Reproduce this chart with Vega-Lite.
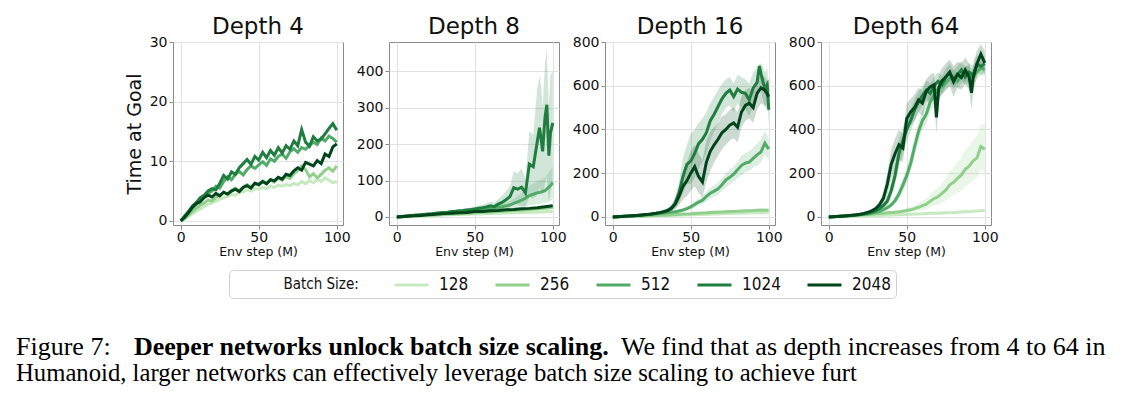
{
"$schema":"https://vega.github.io/schema/vega-lite/v6.json",
"padding":{"left":15,"top":15,"right":5,"bottom":5},
"bounds":"flush",
"spacing":46,
"config":{
"font":"DejaVu Sans",
"view":{"stroke":"#8a8a8a","strokeWidth":1},
"line":{"strokeWidth":3},
"axis":{"domain":false,"grid":true,"gridColor":"#e2e2e2","gridWidth":1,"tickColor":"#8a8a8a","tickSize":4,"labelFontSize":14,"labelColor":"#111","labelFlush":false,"titleFontWeight":"normal","titleColor":"#111","labelPadding":2},
"axisX":{"titleFontSize":12.5,"titlePadding":1,"labelPadding":1},
"axisY":{"titleFontSize":19,"titlePadding":5},
"title":{"fontSize":23,"fontWeight":"normal","font":"DejaVu Sans","frame":"group","baseline":"alphabetic","color":"#111"},
"legend":{"titleFontSize":15,"titleFontWeight":"normal","titleFont":"DejaVu Sans Condensed, DejaVu Sans","titleColor":"#111","labelFontSize":17,"labelFont":"DejaVu Sans Condensed, DejaVu Sans","labelColor":"#111"}
},
"datasets":{
"d4":[
{"b":128,"x":0,"y":0},{"b":128,"x":2.5,"y":0.3},{"b":128,"x":5,"y":0.8},{"b":128,"x":7.5,"y":1.2},{"b":128,"x":10,"y":1.6},{"b":128,"x":12.5,"y":2.0},{"b":128,"x":15,"y":2.4},{"b":128,"x":17.5,"y":2.8},{"b":128,"x":20,"y":3.0},{"b":128,"x":22.5,"y":3.3},{"b":128,"x":25,"y":3.6},{"b":128,"x":27.5,"y":3.9},{"b":128,"x":30,"y":4.1},{"b":128,"x":32.5,"y":4.4},{"b":128,"x":35,"y":4.3},{"b":128,"x":37.5,"y":4.7},{"b":128,"x":40,"y":4.9},{"b":128,"x":42.5,"y":5.2},{"b":128,"x":45,"y":5.0},{"b":128,"x":47.5,"y":5.4},{"b":128,"x":50,"y":5.3},{"b":128,"x":52.5,"y":5.6},{"b":128,"x":55,"y":5.4},{"b":128,"x":57.5,"y":5.8},{"b":128,"x":60,"y":5.6},{"b":128,"x":62.5,"y":6.0},{"b":128,"x":65,"y":5.8},{"b":128,"x":67.5,"y":6.1},{"b":128,"x":70,"y":5.9},{"b":128,"x":72.5,"y":6.3},{"b":128,"x":75,"y":6.0},{"b":128,"x":77.5,"y":6.6},{"b":128,"x":80,"y":6.2},{"b":128,"x":82.5,"y":6.8},{"b":128,"x":85,"y":6.4},{"b":128,"x":87.5,"y":6.9},{"b":128,"x":90,"y":6.6},{"b":128,"x":92.5,"y":7.2},{"b":128,"x":95,"y":6.8},{"b":128,"x":97.5,"y":6.4},{"b":128,"x":100,"y":6.6},
{"b":256,"x":0,"y":0},{"b":256,"x":2.5,"y":0.4},{"b":256,"x":5,"y":1.0},{"b":256,"x":7.5,"y":1.6},{"b":256,"x":10,"y":2.1},{"b":256,"x":12.5,"y":2.6},{"b":256,"x":15,"y":3.0},{"b":256,"x":17.5,"y":3.5},{"b":256,"x":20,"y":3.3},{"b":256,"x":22.5,"y":3.9},{"b":256,"x":25,"y":4.3},{"b":256,"x":27.5,"y":4.8},{"b":256,"x":30,"y":4.4},{"b":256,"x":32.5,"y":5.1},{"b":256,"x":35,"y":5.5},{"b":256,"x":37.5,"y":5.0},{"b":256,"x":40,"y":5.7},{"b":256,"x":42.5,"y":6.1},{"b":256,"x":45,"y":5.6},{"b":256,"x":47.5,"y":6.3},{"b":256,"x":50,"y":6.0},{"b":256,"x":52.5,"y":6.7},{"b":256,"x":55,"y":6.3},{"b":256,"x":57.5,"y":6.9},{"b":256,"x":60,"y":6.5},{"b":256,"x":62.5,"y":7.2},{"b":256,"x":65,"y":6.8},{"b":256,"x":67.5,"y":7.5},{"b":256,"x":70,"y":7.1},{"b":256,"x":72.5,"y":7.9},{"b":256,"x":75,"y":8.4},{"b":256,"x":77.5,"y":9.2},{"b":256,"x":80,"y":8.6},{"b":256,"x":82.5,"y":7.4},{"b":256,"x":85,"y":7.9},{"b":256,"x":87.5,"y":7.2},{"b":256,"x":90,"y":7.8},{"b":256,"x":92.5,"y":8.5},{"b":256,"x":95,"y":8.9},{"b":256,"x":97.5,"y":8.3},{"b":256,"x":100,"y":9.2},
{"b":512,"x":0,"y":0},{"b":512,"x":2.5,"y":0.7},{"b":512,"x":5,"y":1.4},{"b":512,"x":7.5,"y":2.2},{"b":512,"x":10,"y":2.9},{"b":512,"x":12.5,"y":3.6},{"b":512,"x":15,"y":4.0},{"b":512,"x":17.5,"y":4.6},{"b":512,"x":20,"y":5.0},{"b":512,"x":22.5,"y":5.8},{"b":512,"x":25,"y":5.5},{"b":512,"x":27.5,"y":6.6},{"b":512,"x":30,"y":7.4},{"b":512,"x":32.5,"y":6.9},{"b":512,"x":35,"y":7.8},{"b":512,"x":37.5,"y":8.3},{"b":512,"x":40,"y":7.7},{"b":512,"x":42.5,"y":8.6},{"b":512,"x":45,"y":9.2},{"b":512,"x":47.5,"y":8.8},{"b":512,"x":50,"y":9.4},{"b":512,"x":52.5,"y":9.9},{"b":512,"x":55,"y":9.3},{"b":512,"x":57.5,"y":10.4},{"b":512,"x":60,"y":10.0},{"b":512,"x":62.5,"y":10.8},{"b":512,"x":65,"y":11.2},{"b":512,"x":67.5,"y":10.5},{"b":512,"x":70,"y":11.6},{"b":512,"x":72.5,"y":12.1},{"b":512,"x":75,"y":11.5},{"b":512,"x":77.5,"y":12.3},{"b":512,"x":80,"y":12.0},{"b":512,"x":82.5,"y":12.6},{"b":512,"x":85,"y":13.2},{"b":512,"x":87.5,"y":12.8},{"b":512,"x":90,"y":13.9},{"b":512,"x":92.5,"y":13.4},{"b":512,"x":95,"y":14.2},{"b":512,"x":97.5,"y":13.8},{"b":512,"x":100,"y":13.2},
{"b":1024,"x":0,"y":0},{"b":1024,"x":2.5,"y":0.8},{"b":1024,"x":5,"y":1.6},{"b":1024,"x":7.5,"y":2.5},{"b":1024,"x":10,"y":3.1},{"b":1024,"x":12.5,"y":3.9},{"b":1024,"x":15,"y":4.3},{"b":1024,"x":17.5,"y":5.0},{"b":1024,"x":20,"y":5.4},{"b":1024,"x":22.5,"y":5.2},{"b":1024,"x":25,"y":6.3},{"b":1024,"x":27.5,"y":7.6},{"b":1024,"x":30,"y":7.0},{"b":1024,"x":32.5,"y":8.2},{"b":1024,"x":35,"y":7.8},{"b":1024,"x":37.5,"y":8.9},{"b":1024,"x":40,"y":9.6},{"b":1024,"x":42.5,"y":10.3},{"b":1024,"x":45,"y":9.5},{"b":1024,"x":47.5,"y":10.8},{"b":1024,"x":50,"y":10.2},{"b":1024,"x":52.5,"y":11.5},{"b":1024,"x":55,"y":10.6},{"b":1024,"x":57.5,"y":11.8},{"b":1024,"x":60,"y":11.0},{"b":1024,"x":62.5,"y":12.3},{"b":1024,"x":65,"y":11.4},{"b":1024,"x":67.5,"y":12.6},{"b":1024,"x":70,"y":12.0},{"b":1024,"x":72.5,"y":13.4},{"b":1024,"x":75,"y":12.6},{"b":1024,"x":77.5,"y":15.3},{"b":1024,"x":80,"y":13.2},{"b":1024,"x":82.5,"y":12.5},{"b":1024,"x":85,"y":14.1},{"b":1024,"x":87.5,"y":13.4},{"b":1024,"x":90,"y":13.7},{"b":1024,"x":92.5,"y":14.6},{"b":1024,"x":95,"y":15.5},{"b":1024,"x":97.5,"y":16.3},{"b":1024,"x":100,"y":15.2},
{"b":2048,"x":0,"y":0},{"b":2048,"x":2.5,"y":0.6},{"b":2048,"x":5,"y":1.4},{"b":2048,"x":7.5,"y":2.3},{"b":2048,"x":10,"y":2.9},{"b":2048,"x":12.5,"y":3.2},{"b":2048,"x":15,"y":3.9},{"b":2048,"x":17.5,"y":4.3},{"b":2048,"x":20,"y":4.0},{"b":2048,"x":22.5,"y":4.6},{"b":2048,"x":25,"y":4.2},{"b":2048,"x":27.5,"y":4.8},{"b":2048,"x":30,"y":4.5},{"b":2048,"x":32.5,"y":5.0},{"b":2048,"x":35,"y":5.3},{"b":2048,"x":37.5,"y":4.9},{"b":2048,"x":40,"y":5.6},{"b":2048,"x":42.5,"y":5.9},{"b":2048,"x":45,"y":5.5},{"b":2048,"x":47.5,"y":6.3},{"b":2048,"x":50,"y":6.1},{"b":2048,"x":52.5,"y":6.6},{"b":2048,"x":55,"y":6.2},{"b":2048,"x":57.5,"y":6.9},{"b":2048,"x":60,"y":6.7},{"b":2048,"x":62.5,"y":7.3},{"b":2048,"x":65,"y":7.0},{"b":2048,"x":67.5,"y":7.8},{"b":2048,"x":70,"y":7.6},{"b":2048,"x":72.5,"y":8.4},{"b":2048,"x":75,"y":8.9},{"b":2048,"x":77.5,"y":8.5},{"b":2048,"x":80,"y":9.8},{"b":2048,"x":82.5,"y":9.5},{"b":2048,"x":85,"y":9.2},{"b":2048,"x":87.5,"y":10.1},{"b":2048,"x":90,"y":9.6},{"b":2048,"x":92.5,"y":11.2},{"b":2048,"x":95,"y":10.8},{"b":2048,"x":97.5,"y":12.4},{"b":2048,"x":100,"y":12.9}
],
"d8":[
{"b":128,"x":0,"y":0},{"b":128,"x":5,"y":0.9},{"b":128,"x":10,"y":1.8},{"b":128,"x":15,"y":2.7},{"b":128,"x":20,"y":3.6},{"b":128,"x":25,"y":4.5},{"b":128,"x":30,"y":5.3},{"b":128,"x":35,"y":6.1},{"b":128,"x":40,"y":6.9},{"b":128,"x":45,"y":7.6},{"b":128,"x":50,"y":8.4},{"b":128,"x":55,"y":9.0},{"b":128,"x":60,"y":9.7},{"b":128,"x":65,"y":10.4},{"b":128,"x":70,"y":11.0},{"b":128,"x":75,"y":11.7},{"b":128,"x":80,"y":12.3},{"b":128,"x":85,"y":13.0},{"b":128,"x":90,"y":13.6},{"b":128,"x":95,"y":14.3},{"b":128,"x":100,"y":15.0},
{"b":256,"x":0,"y":0},{"b":256,"x":5,"y":1.1},{"b":256,"x":10,"y":2.3},{"b":256,"x":15,"y":3.4},{"b":256,"x":20,"y":4.6},{"b":256,"x":25,"y":5.7},{"b":256,"x":30,"y":6.9},{"b":256,"x":35,"y":8.0},{"b":256,"x":40,"y":9.1},{"b":256,"x":45,"y":10.3},{"b":256,"x":50,"y":11.6},{"b":256,"x":55,"y":12.7},{"b":256,"x":60,"y":13.8},{"b":256,"x":65,"y":15.2},{"b":256,"x":70,"y":16.4},{"b":256,"x":75,"y":17.9},{"b":256,"x":80,"y":19.1},{"b":256,"x":85,"y":20.6},{"b":256,"x":90,"y":22.3},{"b":256,"x":95,"y":24.1},{"b":256,"x":100,"y":26.0},
{"b":512,"x":0,"y":0,"l":0,"h":0},{"b":512,"x":2.5,"y":0.9,"l":0.5,"h":1.3},{"b":512,"x":5,"y":1.8,"l":1.2,"h":2.4},{"b":512,"x":7.5,"y":2.7,"l":1.9,"h":3.5},{"b":512,"x":10,"y":3.7,"l":2.8,"h":4.6},{"b":512,"x":12.5,"y":4.5,"l":3.5,"h":5.5},{"b":512,"x":15,"y":5.6,"l":4.4,"h":6.8},{"b":512,"x":17.5,"y":6.4,"l":5.1,"h":7.7},{"b":512,"x":20,"y":7.5,"l":6.0,"h":9.0},{"b":512,"x":22.5,"y":8.3,"l":6.7,"h":9.9},{"b":512,"x":25,"y":9.4,"l":7.6,"h":11.2},{"b":512,"x":27.5,"y":10.1,"l":8.2,"h":12.0},{"b":512,"x":30,"y":11.2,"l":9.1,"h":13.3},{"b":512,"x":32.5,"y":12.3,"l":10.0,"h":14.6},{"b":512,"x":35,"y":13.0,"l":10.5,"h":15.5},{"b":512,"x":37.5,"y":14.2,"l":11.5,"h":16.9},{"b":512,"x":40,"y":15.1,"l":12.2,"h":18.0},{"b":512,"x":42.5,"y":15.8,"l":12.6,"h":19.0},{"b":512,"x":45,"y":17.0,"l":13.6,"h":20.4},{"b":512,"x":47.5,"y":17.6,"l":14.0,"h":21.2},{"b":512,"x":50,"y":18.9,"l":15.0,"h":22.8},{"b":512,"x":52.5,"y":19.8,"l":15.6,"h":24.0},{"b":512,"x":55,"y":21.0,"l":16.5,"h":25.5},{"b":512,"x":57.5,"y":22.4,"l":17.4,"h":27.4},{"b":512,"x":60,"y":23.5,"l":18.0,"h":29.0},{"b":512,"x":62.5,"y":24.6,"l":18.5,"h":30.7},{"b":512,"x":65,"y":26.8,"l":19.8,"h":33.8},{"b":512,"x":67.5,"y":28.1,"l":20.2,"h":36.0},{"b":512,"x":70,"y":30.5,"l":21.5,"h":39.5},{"b":512,"x":72.5,"y":32.8,"l":22.0,"h":44.0},{"b":512,"x":75,"y":37.2,"l":24.0,"h":51.0},{"b":512,"x":77.5,"y":41.5,"l":25.5,"h":58.0},{"b":512,"x":80,"y":46.3,"l":27.0,"h":66.0},{"b":512,"x":82.5,"y":51.8,"l":29.0,"h":75.0},{"b":512,"x":85,"y":58.9,"l":32.0,"h":86.0},{"b":512,"x":87.5,"y":62.4,"l":33.0,"h":92.0},{"b":512,"x":90,"y":66.2,"l":35.0,"h":98.0},{"b":512,"x":92.5,"y":68.7,"l":36.0,"h":102.0},{"b":512,"x":95,"y":72.4,"l":38.0,"h":108.0},{"b":512,"x":97.5,"y":81.6,"l":42.0,"h":122.0},{"b":512,"x":100,"y":94.0,"l":50.0,"h":138.0},
{"b":1024,"x":0,"y":0,"l":0,"h":0},{"b":1024,"x":2.5,"y":1.0,"l":0.6,"h":1.4},{"b":1024,"x":5,"y":2.0,"l":1.3,"h":2.7},{"b":1024,"x":7.5,"y":3.1,"l":2.2,"h":4.0},{"b":1024,"x":10,"y":4.0,"l":2.9,"h":5.1},{"b":1024,"x":12.5,"y":5.2,"l":3.9,"h":6.5},{"b":1024,"x":15,"y":6.0,"l":4.5,"h":7.5},{"b":1024,"x":17.5,"y":7.1,"l":5.4,"h":8.8},{"b":1024,"x":20,"y":8.3,"l":6.3,"h":10.3},{"b":1024,"x":22.5,"y":9.0,"l":6.8,"h":11.2},{"b":1024,"x":25,"y":10.2,"l":7.8,"h":12.6},{"b":1024,"x":27.5,"y":11.5,"l":8.9,"h":14.1},{"b":1024,"x":30,"y":12.6,"l":9.7,"h":15.5},{"b":1024,"x":32.5,"y":13.3,"l":10.1,"h":16.5},{"b":1024,"x":35,"y":14.8,"l":11.3,"h":18.3},{"b":1024,"x":37.5,"y":15.6,"l":11.8,"h":19.4},{"b":1024,"x":40,"y":17.2,"l":13.0,"h":21.4},{"b":1024,"x":42.5,"y":18.0,"l":13.5,"h":22.5},{"b":1024,"x":45,"y":19.5,"l":14.5,"h":24.5},{"b":1024,"x":47.5,"y":20.3,"l":15.0,"h":25.6},{"b":1024,"x":50,"y":22.0,"l":16.0,"h":28.0},{"b":1024,"x":52.5,"y":23.8,"l":17.0,"h":30.6},{"b":1024,"x":55,"y":25.1,"l":17.5,"h":32.7},{"b":1024,"x":57.5,"y":27.6,"l":18.5,"h":36.7},{"b":1024,"x":60,"y":30.5,"l":19.5,"h":41.5},{"b":1024,"x":62.5,"y":28.4,"l":18.0,"h":38.8},{"b":1024,"x":65,"y":35.2,"l":21.0,"h":49.4},{"b":1024,"x":67.5,"y":40.1,"l":22.0,"h":58.2},{"b":1024,"x":70,"y":47.5,"l":24.0,"h":71.0},{"b":1024,"x":72.5,"y":55.3,"l":27.0,"h":83.6},{"b":1024,"x":75,"y":80.2,"l":35.0,"h":125.4},{"b":1024,"x":77.5,"y":76.5,"l":34.0,"h":119.0},{"b":1024,"x":80,"y":82.0,"l":30.0,"h":134.0},{"b":1024,"x":82.5,"y":66.0,"l":28.0,"h":104.0},{"b":1024,"x":85,"y":145.0,"l":55.0,"h":235.0},{"b":1024,"x":87.5,"y":138.0,"l":50.0,"h":226.0},{"b":1024,"x":90,"y":205.0,"l":60.0,"h":350.0},{"b":1024,"x":91.5,"y":245.0,"l":80.0,"h":385.0},{"b":1024,"x":92.5,"y":215.0,"l":70.0,"h":360.0},{"b":1024,"x":93.5,"y":180.0,"l":60.0,"h":300.0},{"b":1024,"x":95,"y":272.0,"l":90.0,"h":420.0},{"b":1024,"x":96.2,"y":308.0,"l":110.0,"h":460.0},{"b":1024,"x":97.5,"y":168.0,"l":40.0,"h":300.0},{"b":1024,"x":98.5,"y":230.0,"l":70.0,"h":390.0},{"b":1024,"x":100,"y":258.0,"l":90.0,"h":400.0},
{"b":2048,"x":0,"y":0},{"b":2048,"x":5,"y":1.6},{"b":2048,"x":10,"y":3.2},{"b":2048,"x":15,"y":4.3},{"b":2048,"x":20,"y":6.1},{"b":2048,"x":25,"y":7.4},{"b":2048,"x":30,"y":9.2},{"b":2048,"x":35,"y":10.1},{"b":2048,"x":40,"y":11.8},{"b":2048,"x":45,"y":12.6},{"b":2048,"x":50,"y":14.9},{"b":2048,"x":55,"y":15.3},{"b":2048,"x":60,"y":17.4},{"b":2048,"x":65,"y":18.1},{"b":2048,"x":70,"y":19.6},{"b":2048,"x":75,"y":20.8},{"b":2048,"x":80,"y":22.5},{"b":2048,"x":85,"y":23.6},{"b":2048,"x":90,"y":25.4},{"b":2048,"x":95,"y":27.8},{"b":2048,"x":100,"y":30.5}
],
"d16":[
{"b":128,"x":0,"y":0},{"b":128,"x":5,"y":0.8},{"b":128,"x":10,"y":1.6},{"b":128,"x":15,"y":2.5},{"b":128,"x":20,"y":3.4},{"b":128,"x":25,"y":4.3},{"b":128,"x":30,"y":5.3},{"b":128,"x":35,"y":6.2},{"b":128,"x":40,"y":7.2},{"b":128,"x":45,"y":8.3},{"b":128,"x":50,"y":9.5},{"b":128,"x":55,"y":10.6},{"b":128,"x":60,"y":11.8},{"b":128,"x":65,"y":12.9},{"b":128,"x":70,"y":14.1},{"b":128,"x":75,"y":15.3},{"b":128,"x":80,"y":16.4},{"b":128,"x":85,"y":17.5},{"b":128,"x":90,"y":18.6},{"b":128,"x":95,"y":19.6},{"b":128,"x":100,"y":20.5},
{"b":256,"x":0,"y":0},{"b":256,"x":5,"y":1.1},{"b":256,"x":10,"y":2.0},{"b":256,"x":15,"y":3.3},{"b":256,"x":20,"y":4.4},{"b":256,"x":25,"y":6.1},{"b":256,"x":30,"y":7.4},{"b":256,"x":35,"y":9.2},{"b":256,"x":40,"y":10.6},{"b":256,"x":45,"y":12.8},{"b":256,"x":50,"y":14.3},{"b":256,"x":55,"y":16.9},{"b":256,"x":60,"y":18.7},{"b":256,"x":65,"y":21.4},{"b":256,"x":70,"y":22.8},{"b":256,"x":75,"y":24.9},{"b":256,"x":80,"y":25.7},{"b":256,"x":85,"y":28.1},{"b":256,"x":90,"y":28.9},{"b":256,"x":95,"y":31.2},{"b":256,"x":100,"y":30.4},
{"b":512,"x":0,"y":0},{"b":512,"x":2.5,"y":0.8},{"b":512,"x":5,"y":1.7},{"b":512,"x":7.5,"y":2.6},{"b":512,"x":10,"y":3.6},{"b":512,"x":12.5,"y":4.7},{"b":512,"x":15,"y":5.9},{"b":512,"x":17.5,"y":7.2},{"b":512,"x":20,"y":8.6},{"b":512,"x":22.5,"y":10.1},{"b":512,"x":25,"y":11.8},{"b":512,"x":27.5,"y":13.6},{"b":512,"x":30,"y":15.5},{"b":512,"x":32.5,"y":17.2},{"b":512,"x":35,"y":19.6},{"b":512,"x":37.5,"y":21.5},{"b":512,"x":40,"y":24.0,"l":20,"h":28},{"b":512,"x":42.5,"y":27.2,"l":22,"h":33},{"b":512,"x":45,"y":31.5,"l":25,"h":38},{"b":512,"x":47.5,"y":38.0,"l":29,"h":47},{"b":512,"x":50,"y":46.0,"l":35,"h":58},{"b":512,"x":52.5,"y":57.0,"l":43,"h":71},{"b":512,"x":55,"y":68.0,"l":52,"h":84},{"b":512,"x":57.5,"y":76.0,"l":58,"h":95},{"b":512,"x":60,"y":94.0,"l":72,"h":116},{"b":512,"x":62.5,"y":108.0,"l":82,"h":132},{"b":512,"x":65,"y":118.0,"l":93,"h":145},{"b":512,"x":67.5,"y":128.0,"l":100,"h":158},{"b":512,"x":70,"y":147.0,"l":118,"h":178},{"b":512,"x":72.5,"y":169.0,"l":135,"h":202},{"b":512,"x":75,"y":181.0,"l":148,"h":215},{"b":512,"x":77.5,"y":195.0,"l":160,"h":232},{"b":512,"x":80,"y":216.0,"l":178,"h":252},{"b":512,"x":82.5,"y":236.0,"l":190,"h":280},{"b":512,"x":85,"y":246.0,"l":205,"h":292},{"b":512,"x":87.5,"y":251.0,"l":210,"h":300},{"b":512,"x":90,"y":268.0,"l":225,"h":318},{"b":512,"x":92.5,"y":284.0,"l":235,"h":335},{"b":512,"x":95,"y":297.0,"l":250,"h":355},{"b":512,"x":97.5,"y":337.0,"l":285,"h":392},{"b":512,"x":100,"y":310.0,"l":262,"h":360},
{"b":1024,"x":0,"y":0},{"b":1024,"x":2.5,"y":1.0},{"b":1024,"x":5,"y":2.0},{"b":1024,"x":7.5,"y":3.0},{"b":1024,"x":10,"y":4.0},{"b":1024,"x":12.5,"y":5.2},{"b":1024,"x":15,"y":6.5},{"b":1024,"x":17.5,"y":8.0},{"b":1024,"x":20,"y":9.6},{"b":1024,"x":22.5,"y":11.5},{"b":1024,"x":25,"y":13.5},{"b":1024,"x":27.5,"y":16.0},{"b":1024,"x":30,"y":19.0},{"b":1024,"x":32.5,"y":23.0},{"b":1024,"x":35,"y":30.0,"l":22,"h":38},{"b":1024,"x":37.5,"y":40.0,"l":28,"h":55},{"b":1024,"x":40,"y":62.0,"l":40,"h":90},{"b":1024,"x":42.5,"y":110.0,"l":65,"h":160},{"b":1024,"x":45,"y":185.0,"l":110,"h":270},{"b":1024,"x":47.5,"y":240.0,"l":150,"h":330},{"b":1024,"x":50,"y":255.0,"l":150,"h":380},{"b":1024,"x":52.5,"y":290.0,"l":180,"h":400},{"b":1024,"x":55,"y":335.0,"l":220,"h":430},{"b":1024,"x":57.5,"y":355.0,"l":250,"h":450},{"b":1024,"x":60,"y":385.0,"l":290,"h":480},{"b":1024,"x":62.5,"y":440.0,"l":350,"h":520},{"b":1024,"x":65,"y":470.0,"l":390,"h":550},{"b":1024,"x":67.5,"y":505.0,"l":430,"h":580},{"b":1024,"x":70,"y":540.0,"l":470,"h":610},{"b":1024,"x":72.5,"y":565.0,"l":500,"h":630},{"b":1024,"x":75,"y":580.0,"l":510,"h":640},{"b":1024,"x":77.5,"y":550.0,"l":480,"h":610},{"b":1024,"x":80,"y":585.0,"l":520,"h":650},{"b":1024,"x":82.5,"y":570.0,"l":500,"h":640},{"b":1024,"x":85,"y":565.0,"l":490,"h":630},{"b":1024,"x":87.5,"y":535.0,"l":460,"h":610},{"b":1024,"x":90,"y":590.0,"l":510,"h":660},{"b":1024,"x":92.5,"y":615.0,"l":540,"h":680},{"b":1024,"x":94,"y":690.0,"l":600,"h":700},{"b":1024,"x":95.5,"y":640.0,"l":560,"h":700},{"b":1024,"x":97.5,"y":585.0,"l":500,"h":660},{"b":1024,"x":99,"y":605.0,"l":520,"h":680},{"b":1024,"x":100,"y":490.0,"l":420,"h":570},
{"b":2048,"x":0,"y":0},{"b":2048,"x":2.5,"y":1.0},{"b":2048,"x":5,"y":2.1},{"b":2048,"x":7.5,"y":3.1},{"b":2048,"x":10,"y":4.1},{"b":2048,"x":12.5,"y":5.3},{"b":2048,"x":15,"y":6.6},{"b":2048,"x":17.5,"y":8.1},{"b":2048,"x":20,"y":9.7},{"b":2048,"x":22.5,"y":11.6},{"b":2048,"x":25,"y":13.8},{"b":2048,"x":27.5,"y":16.3},{"b":2048,"x":30,"y":19.5},{"b":2048,"x":32.5,"y":23.5},{"b":2048,"x":35,"y":28.0,"l":20,"h":36},{"b":2048,"x":37.5,"y":38.0,"l":25,"h":52},{"b":2048,"x":40,"y":58.0,"l":35,"h":85},{"b":2048,"x":42.5,"y":95.0,"l":55,"h":140},{"b":2048,"x":45,"y":140.0,"l":80,"h":210},{"b":2048,"x":47.5,"y":165.0,"l":95,"h":250},{"b":2048,"x":50,"y":200.0,"l":120,"h":300},{"b":2048,"x":52.5,"y":230.0,"l":140,"h":330},{"b":2048,"x":55,"y":185.0,"l":110,"h":290},{"b":2048,"x":57.5,"y":160.0,"l":90,"h":260},{"b":2048,"x":60,"y":250.0,"l":160,"h":350},{"b":2048,"x":62.5,"y":300.0,"l":210,"h":390},{"b":2048,"x":65,"y":330.0,"l":250,"h":410},{"b":2048,"x":67.5,"y":355.0,"l":280,"h":430},{"b":2048,"x":70,"y":385.0,"l":310,"h":460},{"b":2048,"x":72.5,"y":400.0,"l":330,"h":470},{"b":2048,"x":75,"y":420.0,"l":350,"h":490},{"b":2048,"x":77.5,"y":430.0,"l":360,"h":500},{"b":2048,"x":80,"y":410.0,"l":340,"h":480},{"b":2048,"x":82.5,"y":480.0,"l":410,"h":550},{"b":2048,"x":85,"y":510.0,"l":440,"h":580},{"b":2048,"x":87.5,"y":520.0,"l":450,"h":590},{"b":2048,"x":90,"y":500.0,"l":430,"h":570},{"b":2048,"x":92.5,"y":565.0,"l":490,"h":630},{"b":2048,"x":95,"y":590.0,"l":520,"h":650},{"b":2048,"x":97.5,"y":580.0,"l":510,"h":640},{"b":2048,"x":100,"y":550.0,"l":480,"h":610}
],
"d64":[
{"b":128,"x":0,"y":0},{"b":128,"x":5,"y":0.9},{"b":128,"x":10,"y":2.0},{"b":128,"x":15,"y":2.8},{"b":128,"x":20,"y":4.1},{"b":128,"x":25,"y":5.0},{"b":128,"x":30,"y":6.4},{"b":128,"x":35,"y":7.3},{"b":128,"x":40,"y":8.9},{"b":128,"x":45,"y":10.1},{"b":128,"x":50,"y":11.4},{"b":128,"x":55,"y":13.2},{"b":128,"x":60,"y":14.3},{"b":128,"x":65,"y":16.2},{"b":128,"x":70,"y":17.3},{"b":128,"x":75,"y":19.3},{"b":128,"x":80,"y":20.4},{"b":128,"x":85,"y":22.3},{"b":128,"x":90,"y":24.2},{"b":128,"x":95,"y":27.4},{"b":128,"x":100,"y":29.8},
{"b":256,"x":0,"y":0},{"b":256,"x":2.5,"y":0.8},{"b":256,"x":5,"y":1.7},{"b":256,"x":7.5,"y":2.6},{"b":256,"x":10,"y":3.6},{"b":256,"x":12.5,"y":4.6},{"b":256,"x":15,"y":5.8},{"b":256,"x":17.5,"y":7.0},{"b":256,"x":20,"y":8.3},{"b":256,"x":22.5,"y":9.6},{"b":256,"x":25,"y":11.0},{"b":256,"x":27.5,"y":12.5},{"b":256,"x":30,"y":14.0},{"b":256,"x":32.5,"y":15.5},{"b":256,"x":35,"y":17.0},{"b":256,"x":37.5,"y":18.5},{"b":256,"x":40,"y":20.0},{"b":256,"x":42.5,"y":21.5},{"b":256,"x":45,"y":23.5,"l":18,"h":30},{"b":256,"x":47.5,"y":26.0,"l":19,"h":34},{"b":256,"x":50,"y":29.0,"l":20,"h":39},{"b":256,"x":52.5,"y":33.0,"l":22,"h":45},{"b":256,"x":55,"y":38.0,"l":25,"h":53},{"b":256,"x":57.5,"y":44.0,"l":28,"h":62},{"b":256,"x":60,"y":52.0,"l":33,"h":74},{"b":256,"x":62.5,"y":58.0,"l":36,"h":84},{"b":256,"x":65,"y":72.0,"l":45,"h":104},{"b":256,"x":67.5,"y":84.0,"l":52,"h":120},{"b":256,"x":70,"y":92.0,"l":56,"h":132},{"b":256,"x":72.5,"y":108.0,"l":66,"h":154},{"b":256,"x":75,"y":122.0,"l":75,"h":175},{"b":256,"x":77.5,"y":147.0,"l":92,"h":210},{"b":256,"x":80,"y":158.0,"l":100,"h":225},{"b":256,"x":82.5,"y":176.0,"l":110,"h":250},{"b":256,"x":85,"y":192.0,"l":120,"h":270},{"b":256,"x":87.5,"y":218.0,"l":140,"h":305},{"b":256,"x":90,"y":232.0,"l":150,"h":325},{"b":256,"x":92.5,"y":256.0,"l":170,"h":350},{"b":256,"x":95,"y":270.0,"l":180,"h":370},{"b":256,"x":97.5,"y":322.0,"l":220,"h":420},{"b":256,"x":100,"y":310.0,"l":200,"h":425},
{"b":512,"x":0,"y":0},{"b":512,"x":2.5,"y":0.9},{"b":512,"x":5,"y":1.8},{"b":512,"x":7.5,"y":2.8},{"b":512,"x":10,"y":3.9},{"b":512,"x":12.5,"y":5.1},{"b":512,"x":15,"y":6.5},{"b":512,"x":17.5,"y":8.0},{"b":512,"x":20,"y":9.8},{"b":512,"x":22.5,"y":12.0},{"b":512,"x":25,"y":14.5},{"b":512,"x":27.5,"y":17.5},{"b":512,"x":30,"y":21.0,"l":17,"h":25},{"b":512,"x":32.5,"y":26.0,"l":21,"h":31},{"b":512,"x":35,"y":33.0,"l":26,"h":40},{"b":512,"x":37.5,"y":42.0,"l":33,"h":51},{"b":512,"x":40,"y":55.0,"l":43,"h":67},{"b":512,"x":42.5,"y":75.0,"l":58,"h":92},{"b":512,"x":45,"y":105.0,"l":82,"h":128},{"b":512,"x":47.5,"y":145.0,"l":115,"h":175},{"b":512,"x":50,"y":190.0,"l":155,"h":225},{"b":512,"x":52.5,"y":245.0,"l":205,"h":285},{"b":512,"x":55,"y":320.0,"l":275,"h":365},{"b":512,"x":57.5,"y":390.0,"l":345,"h":435},{"b":512,"x":60,"y":440.0,"l":395,"h":485},{"b":512,"x":62.5,"y":470.0,"l":425,"h":515},{"b":512,"x":65,"y":525.0,"l":480,"h":570},{"b":512,"x":67.5,"y":555.0,"l":515,"h":595},{"b":512,"x":70,"y":585.0,"l":545,"h":625},{"b":512,"x":72.5,"y":595.0,"l":560,"h":630},{"b":512,"x":75,"y":615.0,"l":580,"h":650},{"b":512,"x":77.5,"y":632.0,"l":595,"h":670},{"b":512,"x":80,"y":640.0,"l":605,"h":675},{"b":512,"x":82.5,"y":620.0,"l":590,"h":650},{"b":512,"x":85,"y":645.0,"l":610,"h":680},{"b":512,"x":87.5,"y":655.0,"l":620,"h":690},{"b":512,"x":90,"y":655.0,"l":620,"h":690},{"b":512,"x":92.5,"y":636.0,"l":600,"h":672},{"b":512,"x":95,"y":665.0,"l":630,"h":700},{"b":512,"x":97.5,"y":680.0,"l":650,"h":710},{"b":512,"x":100,"y":675.0,"l":645,"h":705},
{"b":1024,"x":0,"y":0},{"b":1024,"x":2.5,"y":1.0},{"b":1024,"x":5,"y":2.0},{"b":1024,"x":7.5,"y":3.1},{"b":1024,"x":10,"y":4.3},{"b":1024,"x":12.5,"y":5.6},{"b":1024,"x":15,"y":7.0},{"b":1024,"x":17.5,"y":8.8},{"b":1024,"x":20,"y":10.8},{"b":1024,"x":22.5,"y":13.2},{"b":1024,"x":25,"y":16.5},{"b":1024,"x":27.5,"y":21.0},{"b":1024,"x":30,"y":28.0,"l":22,"h":34},{"b":1024,"x":32.5,"y":38.0,"l":28,"h":48},{"b":1024,"x":35,"y":52.0,"l":38,"h":66},{"b":1024,"x":37.5,"y":72.0,"l":50,"h":94},{"b":1024,"x":40,"y":120.0,"l":85,"h":155},{"b":1024,"x":42.5,"y":190.0,"l":140,"h":240},{"b":1024,"x":45,"y":290.0,"l":230,"h":350},{"b":1024,"x":47.5,"y":350.0,"l":290,"h":410},{"b":1024,"x":50,"y":400.0,"l":345,"h":455},{"b":1024,"x":52.5,"y":440.0,"l":390,"h":490},{"b":1024,"x":55,"y":490.0,"l":440,"h":540},{"b":1024,"x":57.5,"y":525.0,"l":478,"h":572},{"b":1024,"x":60,"y":555.0,"l":510,"h":600},{"b":1024,"x":62.5,"y":580.0,"l":535,"h":625},{"b":1024,"x":65,"y":565.0,"l":520,"h":610},{"b":1024,"x":67.5,"y":600.0,"l":560,"h":640},{"b":1024,"x":70,"y":620.0,"l":580,"h":660},{"b":1024,"x":72.5,"y":605.0,"l":565,"h":645},{"b":1024,"x":75,"y":640.0,"l":600,"h":680},{"b":1024,"x":77.5,"y":660.0,"l":620,"h":700},{"b":1024,"x":80,"y":628.0,"l":585,"h":670},{"b":1024,"x":82.5,"y":650.0,"l":610,"h":690},{"b":1024,"x":85,"y":672.0,"l":630,"h":714},{"b":1024,"x":87.5,"y":640.0,"l":600,"h":680},{"b":1024,"x":90,"y":662.0,"l":620,"h":704},{"b":1024,"x":92.5,"y":648.0,"l":605,"h":690},{"b":1024,"x":95,"y":700.0,"l":660,"h":740},{"b":1024,"x":97.5,"y":688.0,"l":648,"h":728},{"b":1024,"x":100,"y":700.0,"l":660,"h":740},
{"b":2048,"x":0,"y":0},{"b":2048,"x":2.5,"y":1.0},{"b":2048,"x":5,"y":2.1},{"b":2048,"x":7.5,"y":3.3},{"b":2048,"x":10,"y":4.6},{"b":2048,"x":12.5,"y":6.0},{"b":2048,"x":15,"y":7.8},{"b":2048,"x":17.5,"y":9.8},{"b":2048,"x":20,"y":12.5},{"b":2048,"x":22.5,"y":16.0},{"b":2048,"x":25,"y":21.0},{"b":2048,"x":27.5,"y":28.0},{"b":2048,"x":30,"y":38.0,"l":28,"h":48},{"b":2048,"x":32.5,"y":55.0,"l":40,"h":70},{"b":2048,"x":35,"y":85.0,"l":60,"h":110},{"b":2048,"x":37.5,"y":150.0,"l":100,"h":200},{"b":2048,"x":40,"y":240.0,"l":170,"h":310},{"b":2048,"x":42.5,"y":290.0,"l":220,"h":360},{"b":2048,"x":45,"y":330.0,"l":260,"h":400},{"b":2048,"x":47.5,"y":315.0,"l":250,"h":380},{"b":2048,"x":50,"y":450.0,"l":380,"h":520},{"b":2048,"x":52.5,"y":480.0,"l":420,"h":540},{"b":2048,"x":55,"y":500.0,"l":440,"h":560},{"b":2048,"x":57.5,"y":535.0,"l":480,"h":590},{"b":2048,"x":60,"y":520.0,"l":460,"h":580},{"b":2048,"x":62.5,"y":575.0,"l":520,"h":630},{"b":2048,"x":65,"y":595.0,"l":540,"h":650},{"b":2048,"x":67.5,"y":605.0,"l":550,"h":660},{"b":2048,"x":69,"y":455.0,"l":380,"h":530},{"b":2048,"x":70.5,"y":590.0,"l":530,"h":650},{"b":2048,"x":72.5,"y":622.0,"l":560,"h":680},{"b":2048,"x":75,"y":640.0,"l":580,"h":700},{"b":2048,"x":77.5,"y":662.0,"l":600,"h":720},{"b":2048,"x":80,"y":618.0,"l":550,"h":690},{"b":2048,"x":82.5,"y":652.0,"l":590,"h":710},{"b":2048,"x":85,"y":638.0,"l":580,"h":700},{"b":2048,"x":87.5,"y":672.0,"l":610,"h":730},{"b":2048,"x":90,"y":640.0,"l":580,"h":700},{"b":2048,"x":91.5,"y":568.0,"l":490,"h":640},{"b":2048,"x":92.5,"y":635.0,"l":570,"h":700},{"b":2048,"x":95,"y":700.0,"l":640,"h":760},{"b":2048,"x":97.5,"y":745.0,"l":690,"h":790},{"b":2048,"x":100,"y":705.0,"l":650,"h":760}
]
},
"hconcat":[
{"width":170,"height":183,"title":{"text":"Depth 4","offset":-4},"data":{"name":"d4"},
"layer":[
{"mark":{"type":"line"},"encoding":{"x":{"field":"x","type":"quantitative","scale":{"domain":[-5,104],"nice":false,"zero":false},"axis":{"values":[0,50,100],"title":"Env step (M)"}},"y":{"field":"y","type":"quantitative","scale":{"domain":[-0.7,30],"nice":false,"zero":false},"axis":{"values":[0,10,20,30],"title":"Time at Goal"}},"color":{"field":"b","type":"ordinal","scale":{"domain":[128,256,512,1024,2048],"range":["#c7e9c0","#90d08c","#52ab68","#1f7d40","#00441b"]},"legend":{"title":"\u2800\u2800\u2800\u2800\u2800Batch Size:","orient":"none","legendX":56,"legendY":228,"direction":"horizontal","titleOrient":"left","titlePadding":34,"titleBaseline":"middle","labelOffset":26,"symbolType":"M-1,0H3","symbolStrokeWidth":4,"symbolSize":289,"symbolOpacity":1,"columnPadding":20,"gridAlign":"each","padding":5,"strokeColor":"#d0d0d0","fillColor":"#ffffff","cornerRadius":4}}}},
{"data":{"values":[{"t":"Figure 7:"}]},"mark":{"type":"text","font":"Liberation Serif","fontSize":26,"align":"left","baseline":"alphabetic","x":-157,"y":313,"color":"#000"},"encoding":{"text":{"field":"t"}}},
{"data":{"values":[{"t":"Deeper networks unlock batch size scaling."}]},"mark":{"type":"text","font":"Liberation Serif","fontSize":26,"fontWeight":"bold","align":"left","baseline":"alphabetic","x":-39,"y":313,"color":"#000"},"encoding":{"text":{"field":"t"}}},
{"data":{"values":[{"t":"We find that as depth increases from 4 to 64 in"}]},"mark":{"type":"text","font":"Liberation Serif","fontSize":26,"align":"left","baseline":"alphabetic","x":448,"y":313,"color":"#000"},"encoding":{"text":{"field":"t"}}},
{"data":{"values":[{"t":"Humanoid, larger networks can effectively leverage batch size scaling to achieve furt"}]},"mark":{"type":"text","font":"Liberation Serif","fontSize":24.7,"align":"left","baseline":"alphabetic","x":-157,"y":339,"color":"#000"},"encoding":{"text":{"field":"t"}}}
]},
{"width":170,"height":183,"title":{"text":"Depth 8","offset":3},"data":{"name":"d8"},
"layer":[
{"transform":[{"filter":"isValid(datum.l)"}],"mark":{"type":"area","opacity":0.2},"encoding":{"x":{"field":"x","type":"quantitative","scale":{"domain":[-5,104],"nice":false,"zero":false},"axis":{"values":[0,50,100],"title":"Env step (M)"}},"y":{"field":"l","type":"quantitative","scale":{"domain":[-22,480],"nice":false,"zero":false},"axis":{"values":[0,100,200,300,400],"title":null}},"y2":{"field":"h"},"fill":{"field":"b","type":"ordinal","legend":null,"scale":{"domain":[128,256,512,1024,2048],"range":["#c7e9c0","#90d08c","#52ab68","#1f7d40","#00441b"]}}}},
{"mark":{"type":"line"},"encoding":{"x":{"field":"x","type":"quantitative","scale":{"domain":[-5,104],"nice":false,"zero":false},"axis":{"values":[0,50,100],"title":"Env step (M)"}},"y":{"field":"y","type":"quantitative","scale":{"domain":[-22,480],"nice":false,"zero":false},"axis":{"values":[0,100,200,300,400],"title":null}},"color":{"field":"b","type":"ordinal","scale":{"domain":[128,256,512,1024,2048],"range":["#c7e9c0","#90d08c","#52ab68","#1f7d40","#00441b"]},"legend":{"title":"\u2800\u2800\u2800\u2800\u2800Batch Size:","orient":"none","legendX":56,"legendY":228,"direction":"horizontal","titleOrient":"left","titlePadding":34,"titleBaseline":"middle","labelOffset":26,"symbolType":"M-1,0H3","symbolStrokeWidth":4,"symbolSize":289,"symbolOpacity":1,"columnPadding":20,"gridAlign":"each","padding":5,"strokeColor":"#d0d0d0","fillColor":"#ffffff","cornerRadius":4}}}}
]},
{"width":170,"height":183,"title":{"text":"Depth 16","offset":-4},"data":{"name":"d16"},
"layer":[
{"transform":[{"filter":"isValid(datum.l)"}],"mark":{"type":"area","opacity":0.2},"encoding":{"x":{"field":"x","type":"quantitative","scale":{"domain":[-5,104],"nice":false,"zero":false},"axis":{"values":[0,50,100],"title":"Env step (M)"}},"y":{"field":"l","type":"quantitative","scale":{"domain":[-37,800],"nice":false,"zero":false},"axis":{"values":[0,200,400,600,800],"title":null}},"y2":{"field":"h"},"fill":{"field":"b","type":"ordinal","legend":null,"scale":{"domain":[128,256,512,1024,2048],"range":["#c7e9c0","#90d08c","#52ab68","#1f7d40","#00441b"]}}}},
{"mark":{"type":"line"},"encoding":{"x":{"field":"x","type":"quantitative","scale":{"domain":[-5,104],"nice":false,"zero":false},"axis":{"values":[0,50,100],"title":"Env step (M)"}},"y":{"field":"y","type":"quantitative","scale":{"domain":[-37,800],"nice":false,"zero":false},"axis":{"values":[0,200,400,600,800],"title":null}},"color":{"field":"b","type":"ordinal","scale":{"domain":[128,256,512,1024,2048],"range":["#c7e9c0","#90d08c","#52ab68","#1f7d40","#00441b"]},"legend":{"title":"\u2800\u2800\u2800\u2800\u2800Batch Size:","orient":"none","legendX":56,"legendY":228,"direction":"horizontal","titleOrient":"left","titlePadding":34,"titleBaseline":"middle","labelOffset":26,"symbolType":"M-1,0H3","symbolStrokeWidth":4,"symbolSize":289,"symbolOpacity":1,"columnPadding":20,"gridAlign":"each","padding":5,"strokeColor":"#d0d0d0","fillColor":"#ffffff","cornerRadius":4}}}}
]},
{"width":170,"height":183,"title":{"text":"Depth 64","offset":-4},"data":{"name":"d64"},
"layer":[
{"transform":[{"filter":"isValid(datum.l)"}],"mark":{"type":"area","opacity":0.2},"encoding":{"x":{"field":"x","type":"quantitative","scale":{"domain":[-5,104],"nice":false,"zero":false},"axis":{"values":[0,50,100],"title":"Env step (M)"}},"y":{"field":"l","type":"quantitative","scale":{"domain":[-37,800],"nice":false,"zero":false},"axis":{"values":[0,200,400,600,800],"title":null}},"y2":{"field":"h"},"fill":{"field":"b","type":"ordinal","legend":null,"scale":{"domain":[128,256,512,1024,2048],"range":["#c7e9c0","#90d08c","#52ab68","#1f7d40","#00441b"]}}}},
{"mark":{"type":"line"},"encoding":{"x":{"field":"x","type":"quantitative","scale":{"domain":[-5,104],"nice":false,"zero":false},"axis":{"values":[0,50,100],"title":"Env step (M)"}},"y":{"field":"y","type":"quantitative","scale":{"domain":[-37,800],"nice":false,"zero":false},"axis":{"values":[0,200,400,600,800],"title":null}},"color":{"field":"b","type":"ordinal","scale":{"domain":[128,256,512,1024,2048],"range":["#c7e9c0","#90d08c","#52ab68","#1f7d40","#00441b"]},"legend":{"title":"\u2800\u2800\u2800\u2800\u2800Batch Size:","orient":"none","legendX":56,"legendY":228,"direction":"horizontal","titleOrient":"left","titlePadding":34,"titleBaseline":"middle","labelOffset":26,"symbolType":"M-1,0H3","symbolStrokeWidth":4,"symbolSize":289,"symbolOpacity":1,"columnPadding":20,"gridAlign":"each","padding":5,"strokeColor":"#d0d0d0","fillColor":"#ffffff","cornerRadius":4}}}}
]}
]
}
